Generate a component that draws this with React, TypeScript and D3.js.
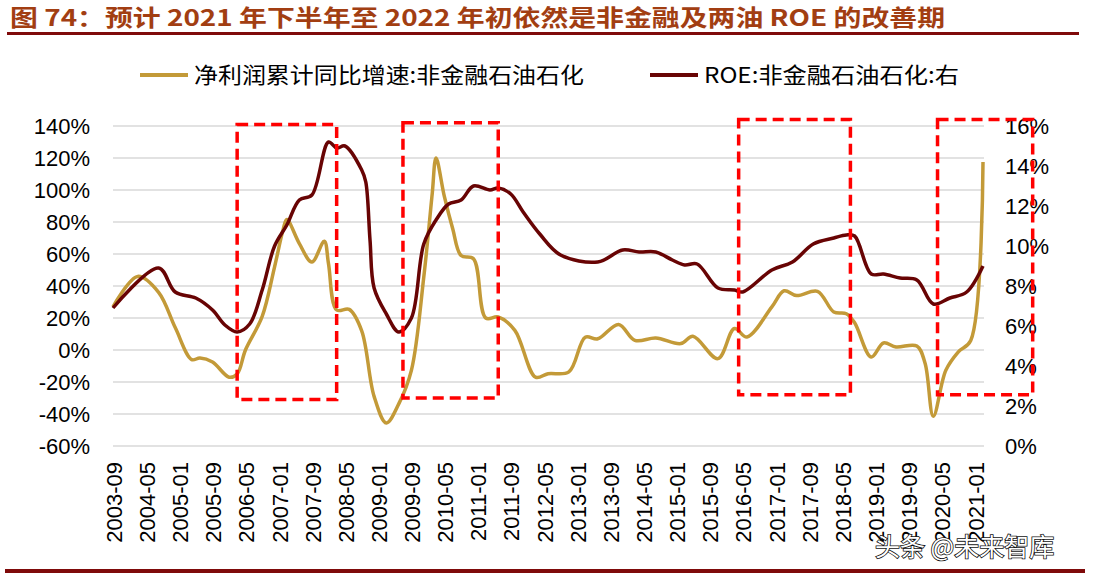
import React, { useRef, useEffect } from 'react';
import * as d3 from 'd3';

// 净利润累计同比增速 (left axis, %)
const profitDates = [
  '2003-09', '2004-03', '2004-08', '2004-12', '2005-04', '2005-06', '2005-09', '2006-01',
  '2006-03', '2006-05', '2006-09', '2006-12', '2007-02', '2007-03', '2007-06', '2007-09',
  '2007-12', '2008-01', '2008-03', '2008-06', '2008-09', '2008-12', '2009-03', '2009-06',
  '2009-09', '2009-12', '2010-02', '2010-03', '2010-05', '2010-07', '2010-09', '2010-12',
  '2011-03', '2011-06', '2011-10', '2012-03', '2012-06', '2012-11', '2013-03', '2013-06',
  '2013-11', '2014-03', '2014-08', '2015-02', '2015-05', '2015-11', '2016-03', '2016-06',
  '2016-12', '2017-03', '2017-06', '2017-11', '2018-03', '2018-06', '2018-08', '2018-12',
  '2019-03', '2019-06', '2019-11', '2020-01', '2020-03', '2020-06', '2020-09', '2020-12',
  '2021-03',
];
const profitValues = [
  27, 46, 36, 14, -6, -5, -7.5, -17,
  -15, 0, 21, 52, 75, 81.5, 66.5, 55,
  68, 54, 25, 25.4, 12, -29, -45.6, -33.5,
  -12.7, 45.6, 97.7, 120, 96, 76, 59, 57,
  20, 20.6, 12.3, -17, -14.8, -13.7, 8, 7,
  16, 6, 7.5, 4, 8.6, -5.4, 13.4, 8.1,
  27, 37, 34, 36.7, 23.8, 22.7, 17, -4.4,
  4.4, 1.9, 2.5, -8.5, -41.4, -12.7, -1.2, 6,
  117.5,
];

// ROE:非金融石油石化 (right axis, %)
const roeDates = [
  '2003-09', '2004-08', '2004-12', '2005-05', '2005-09', '2005-12', '2006-03', '2006-06',
  '2006-09', '2006-12', '2007-03', '2007-06', '2007-09', '2008-01', '2008-03', '2008-05',
  '2008-09', '2008-10', '2008-11', '2008-12', '2009-03', '2009-06', '2009-09', '2009-12',
  '2010-03', '2010-06', '2010-09', '2010-12', '2011-04', '2011-06', '2011-09', '2011-12',
  '2012-04', '2012-09', '2013-06', '2013-12', '2014-04', '2014-08', '2014-12', '2015-03',
  '2015-06', '2015-11', '2016-03', '2016-05', '2016-12', '2017-05', '2017-10', '2018-03',
  '2018-06', '2018-08', '2018-12', '2019-03', '2019-07', '2019-11', '2020-03', '2020-07',
  '2020-11', '2021-03',
];
const roeValues = [
  6.9, 8.9, 7.7, 7.4, 6.8, 6.05, 5.7, 6.1,
  7.8, 10, 11.05, 12.3, 12.55, 15.2, 14.9, 15,
  13.8, 13.2, 10.3, 7.9, 6.6, 5.7, 6.4, 10.1,
  11.3, 12.1, 12.3, 13, 12.8, 12.9, 12.6, 11.7,
  10.6, 9.55, 9.2, 9.8, 9.7, 9.7, 9.3, 9.05,
  9.1, 7.9, 7.8, 7.7, 8.8, 9.2, 10.1, 10.4,
  10.55, 10.5, 8.6, 8.6, 8.4, 8.3, 7.1, 7.4,
  7.7, 9,
];

const xTickLabels = [
  '2003-09', '2004-05', '2005-01', '2005-09', '2006-05', '2007-01', '2007-09', '2008-05',
  '2009-01', '2009-09', '2010-05', '2011-01', '2011-09', '2012-05', '2013-01', '2013-09',
  '2014-05', '2015-01', '2015-09', '2016-05', '2017-01', '2017-09', '2018-05', '2019-01',
  '2019-09', '2020-05', '2021-01',
];
const leftTicks = [-60, -40, -20, 0, 20, 40, 60, 80, 100, 120, 140];
const rightTicks = [0, 2, 4, 6, 8, 10, 12, 14, 16];

// 改善期 highlight boxes (months, left-axis %)
const boxStart = ['2006-03', '2009-07', '2016-04', '2020-04'];
const boxEnd = ['2008-03', '2011-06', '2018-07', '2022-03'];
const boxTop = [141, 142, 144, 144];
const boxBottom = [-31, -30, -28, -28];

const title = '图 74：预计 2021 年下半年至 2022 年初依然是非金融及两油 ROE 的改善期';
const legendNames = ['净利润累计同比增速:非金融石油石化', 'ROE:非金融石油石化:右'];

const GOLD = '#C39A38';
const DARK = '#680404';

const App = () => {
  const ref = useRef(null);

  useEffect(() => {
    const svg = d3.select(ref.current);
    svg.selectAll('*').remove();

    const width = 1097;
    const height = 576;
    svg.attr('width', width).attr('height', height);

    const parse = d3.timeParse('%Y-%m');
    const font = 'Arial, "Liberation Sans", "Noto Sans CJK SC", sans-serif';
    const cjk = '"Noto Sans CJK SC", "Liberation Sans", sans-serif';

    const x = d3
      .scaleTime()
      .domain([parse('2003-09') as Date, parse('2021-03') as Date])
      .range([113, 983]);
    const yL = d3.scaleLinear().domain([-60, 140]).range([446, 126]);
    const yR = d3.scaleLinear().domain([0, 16]).range([446, 126]);

    // 标题
    svg
      .append('text')
      .text(title)
      .attr('x', 10)
      .attr('y', 26)
      .attr('textLength', 935)
      .attr('lengthAdjust', 'spacingAndGlyphs')
      .attr('font-size', 23)
      .attr('font-weight', 'bold')
      .attr('fill', '#A23E12')
      .style('font-family', cjk);
    svg.append('rect').attr('x', 7).attr('y', 32).attr('width', 1072).attr('height', 3).attr('fill', '#7F0A0A');
    svg.append('rect').attr('x', 5).attr('y', 569).attr('width', 1080).attr('height', 4).attr('fill', '#7F0A0A');

    // 网格线
    svg
      .append('g')
      .selectAll('line')
      .data(leftTicks)
      .enter()
      .append('line')
      .attr('x1', 113)
      .attr('x2', 984)
      .attr('y1', (d) => yL(d))
      .attr('y2', (d) => yL(d))
      .attr('stroke', '#D9D9D9')
      .attr('stroke-width', 1.5);

    // 左轴
    const left = svg
      .append('g')
      .attr('transform', 'translate(100,0)')
      .call(d3.axisLeft(yL).tickValues(leftTicks).tickSize(0).tickPadding(10).tickFormat((d) => `${d}%`));
    left.select('.domain').remove();
    left.selectAll('text').attr('font-size', 22).style('font-family', font).attr('fill', '#000');

    // 右轴
    const right = svg
      .append('g')
      .attr('transform', 'translate(995,0)')
      .call(d3.axisRight(yR).tickValues(rightTicks).tickSize(0).tickPadding(10).tickFormat((d) => `${d}%`));
    right.select('.domain').remove();
    right.selectAll('text').attr('font-size', 22).style('font-family', font).attr('fill', '#000');

    // X轴标签
    svg
      .append('g')
      .selectAll('text')
      .data(xTickLabels)
      .enter()
      .append('text')
      .text((d) => d)
      .attr('transform', (d) => `translate(${x(parse(d) as Date) + 1},462) rotate(-90)`)
      .attr('text-anchor', 'end')
      .attr('dy', '0.35em')
      .attr('font-size', 22)
      .attr('fill', '#000')
      .style('font-family', font);

    // 线
    const line = (dates: string[], vals: number[], y: d3.ScaleLinear<number, number>) =>
      d3
        .line<number>()
        .x((_, i) => x(parse(dates[i]) as Date))
        .y((d) => y(d))
        .curve(d3.curveCatmullRom.alpha(0.5))(vals);

    svg
      .append('path')
      .attr('d', line(profitDates, profitValues, yL))
      .attr('fill', 'none')
      .attr('stroke', GOLD)
      .attr('stroke-width', 3.5);
    svg
      .append('path')
      .attr('d', line(roeDates, roeValues, yR))
      .attr('fill', 'none')
      .attr('stroke', DARK)
      .attr('stroke-width', 3.5);

    // 红色虚线框
    svg
      .append('g')
      .selectAll('rect')
      .data(boxStart)
      .enter()
      .append('rect')
      .attr('x', (d) => x(parse(d) as Date))
      .attr('y', (_, i) => yL(boxTop[i]))
      .attr('width', (d, i) => x(parse(boxEnd[i]) as Date) - x(parse(d) as Date))
      .attr('height', (_, i) => yL(boxBottom[i]) - yL(boxTop[i]))
      .attr('fill', 'none')
      .attr('stroke', '#FF0000')
      .attr('stroke-width', 3.5)
      .attr('stroke-dasharray', '11,6');

    // 图例
    const legendX = [140, 650];
    const legendW = [390, 255];
    const legendColors = [GOLD, DARK];
    legendNames.forEach((name, i) => {
      svg
        .append('line')
        .attr('x1', legendX[i])
        .attr('x2', legendX[i] + 48)
        .attr('y1', 75)
        .attr('y2', 75)
        .attr('stroke', legendColors[i])
        .attr('stroke-width', 4);
      svg
        .append('text')
        .text(name)
        .attr('x', legendX[i] + 54)
        .attr('y', 83)
        .attr('textLength', legendW[i])
        .attr('lengthAdjust', 'spacingAndGlyphs')
        .attr('font-size', 22)
        .attr('fill', '#000')
        .style('font-family', cjk);
    });

    // 水印
    svg
      .append('text')
      .text('头条 @未来智库')
      .attr('x', 875)
      .attr('y', 556)
      .attr('font-size', 25)
      .attr('fill', '#fff')
      .attr('stroke', '#111')
      .attr('stroke-width', 1.6)
      .style('paint-order', 'stroke')
      .style('font-family', cjk);
  }, []);

  return (
    <div style={{ position: 'absolute', left: 0, top: 0 }}>
      <svg ref={ref} style={{ display: 'block', background: '#fff' }} />
    </div>
  );
};

export default App;
